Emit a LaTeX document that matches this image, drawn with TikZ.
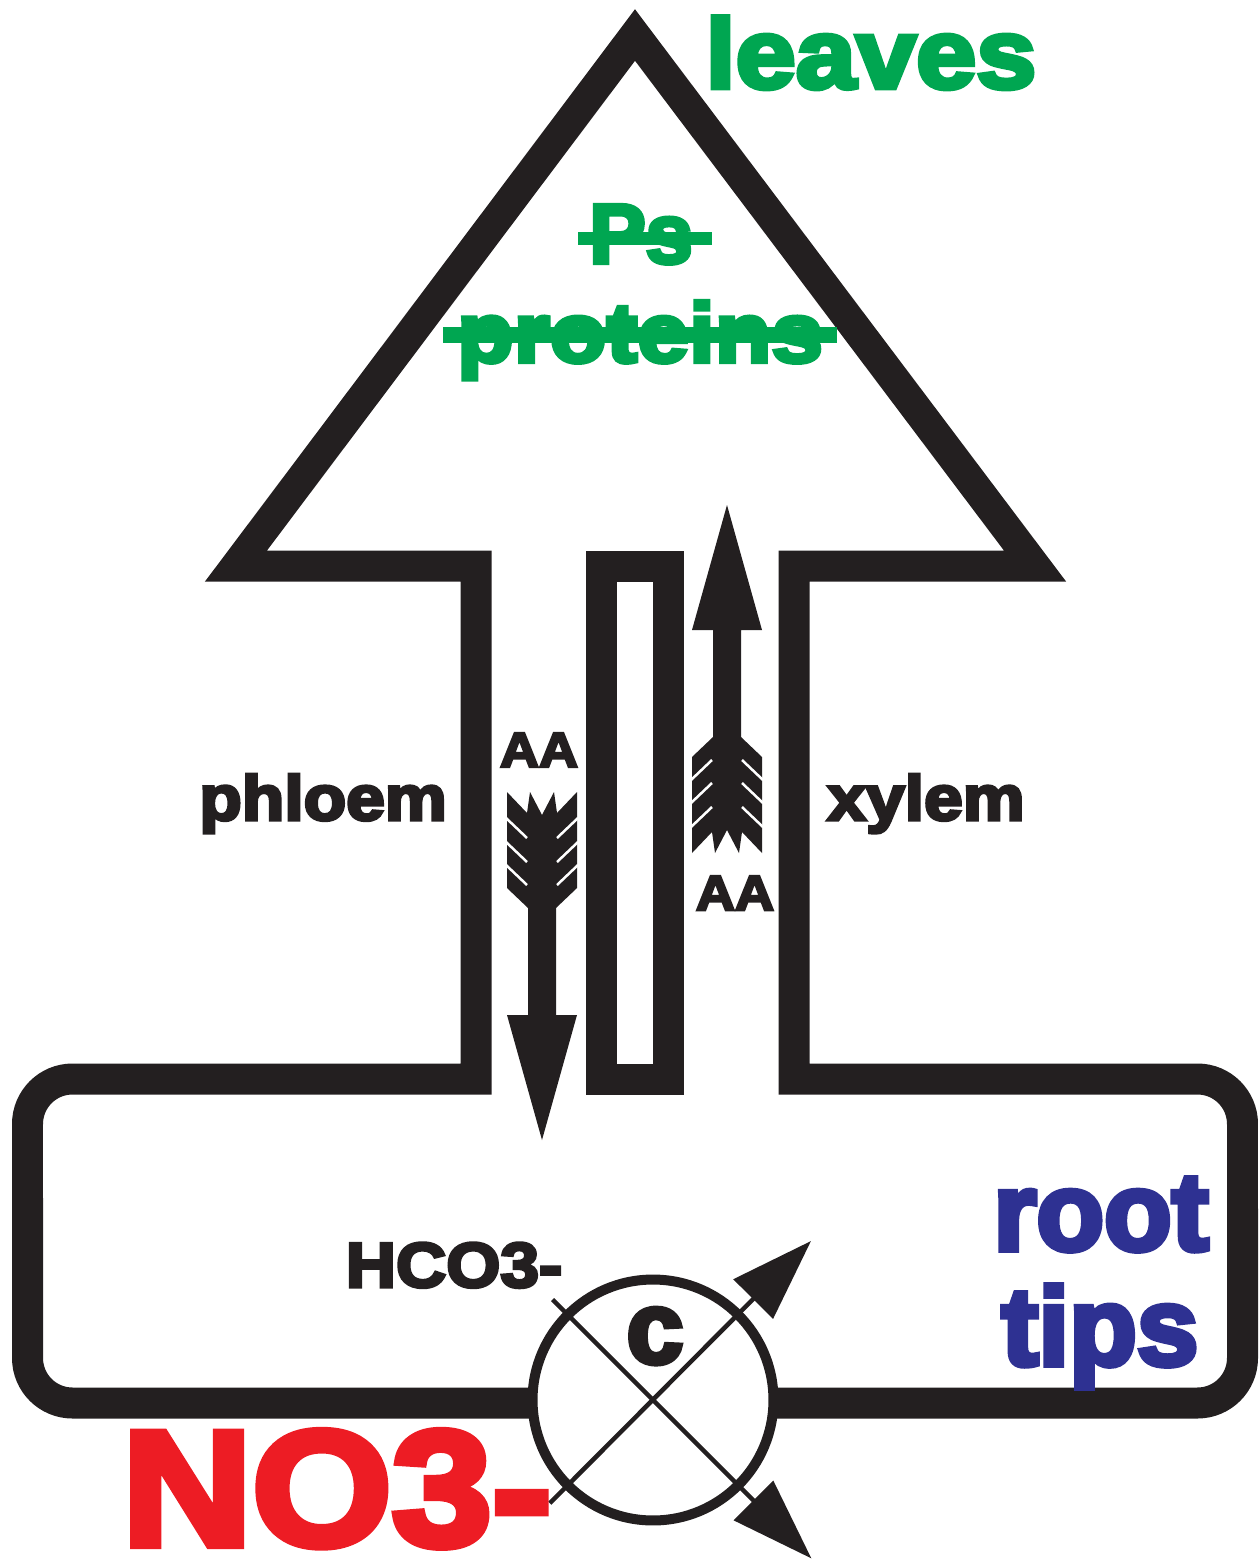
\documentclass[tikz,border=0pt]{standalone}
\usepackage{fontspec}
\usetikzlibrary{arrows.meta}
\newfontfamily\heavy{Liberation Sans}[BoldFeatures={FakeBold=5, FakeStretch=1.1}]
\newfontfamily\heavyn{Liberation Sans}[BoldFeatures={FakeBold=5}]
\definecolor{ink}{HTML}{231F20}
\definecolor{leafgreen}{HTML}{00A651}
\definecolor{rootblue}{HTML}{2E3192}
\definecolor{nitred}{HTML}{ED1C24}
\tikzset{
  outline/.style={draw=ink, line width=0.62cm, line join=miter},
  lbl/.style={inner sep=0pt, anchor=base, text depth=0pt},
  diag/.style={draw=ink, line width=0.09cm},
  pics/fletch/.style={code={
    \fill[ink] (-35,0) -- (-15,-21) -- (-12,0) -- (0,-23) -- (12,0) -- (15,-21) -- (35,0)
      -- (35,-96) -- (14,-116) -- (14,-223) -- (35,-223) -- (0,-348) -- (-35,-223)
      -- (-14,-223) -- (-14,-116) -- (-35,-96) -- cycle;
    \foreach \yy in {-26,-50,-73} {
      \draw[white, line width=0.05cm] (-36,\yy) -- (-15,\yy-20);
      \draw[white, line width=0.05cm] (36,\yy) -- (15,\yy-20);
    }
  }}
}
\begin{document}
\begin{tikzpicture}[x=0.02cm, y=0.02cm]
\useasboundingbox (0,0) rectangle (1259,-1560);
% main outline: leaf arrow + root box
\draw[outline] (476,-566) -- (236,-566) -- (635,-35) -- (1035,-566) -- (794,-566) -- (794,-1079)
  -- (1197.5,-1079) arc[start angle=90, end angle=0, radius=0.9cm]
  -- (1242.5,-1358) arc[start angle=0, end angle=-90, radius=0.9cm]
  -- (72.5,-1403) arc[start angle=270, end angle=180, radius=0.9cm]
  -- (27.5,-1124) arc[start angle=180, end angle=90, radius=0.9cm]
  -- (476,-1079) -- cycle;
% middle strip
\draw[outline] (601.5,-566) rectangle (668.5,-1079);
% feathered arrows
\pic at (542,-792) {fletch};
\pic[yscale=-1] at (727,-853) {fletch};
% texts
\node[lbl, text=leafgreen, font=\heavy\bfseries\fontsize{56}{60}\selectfont] (leaves) at (871,-88) {leaves};
\node[lbl, text=leafgreen, font=\heavyn\bfseries\fontsize{48}{52}\selectfont] (ps) at (641,-263) {Ps};
\node[lbl, text=leafgreen, font=\heavy\bfseries\fontsize{48}{52}\selectfont] (proteins) at (640,-362) {proteins};
\fill[leafgreen] (578,-232) rectangle (712,-245);
\fill[leafgreen] (443,-327) rectangle (837,-343);
\node[lbl, text=ink, font=\heavy\bfseries\fontsize{36}{40}\selectfont] (phloem) at (323,-820) {phloem};
\node[lbl, text=ink, font=\heavy\bfseries\fontsize{36}{40}\selectfont] (xylem) at (926,-820) {xylem};
\node[lbl, text=ink, font=\heavy\bfseries\fontsize{28}{32}\selectfont] (aa1) at (539,-767) {AA};
\node[lbl, text=ink, font=\heavy\bfseries\fontsize{28}{32}\selectfont] (aa2) at (735,-910) {AA};
\node[lbl, text=ink, font=\heavy\bfseries\fontsize{36}{40}\selectfont] (hco) at (454,-1287) {HCO3-};
\node[lbl, text=rootblue, font=\heavyn\bfseries\fontsize{63}{66}\selectfont] (root) at (1101,-1250) {root};
\node[lbl, text=rootblue, font=\heavyn\bfseries\fontsize{63}{66}\selectfont] (tips) at (1100,-1365) {tips};
% carrier
\node[draw=ink, fill=white, line width=0.2cm, circle, minimum size=4.82cm, inner sep=0pt] (carrier) at (653,-1400) {};
\node[lbl, text=ink, font=\heavyn\bfseries\fontsize{58}{60}\selectfont] (c) at (655,-1363) {c};
\coordinate (s1) at (552.6,-1299.6);
\coordinate (t1) at (811.4,-1558.4);
\coordinate (s2) at (549.8,-1503.2);
\coordinate (t2) at (811,-1241);
\draw[diag, -{Triangle[length=1.64cm, width=1.1cm]}] (s1) -- (t1);
\draw[diag, -{Triangle[length=1.64cm, width=1.1cm]}] (s2) -- (t2);
\node[lbl, text=nitred, font=\heavy\bfseries\fontsize{93}{98}\selectfont] (no3) at (337,-1545) {NO3-};
\end{tikzpicture}
\end{document}
